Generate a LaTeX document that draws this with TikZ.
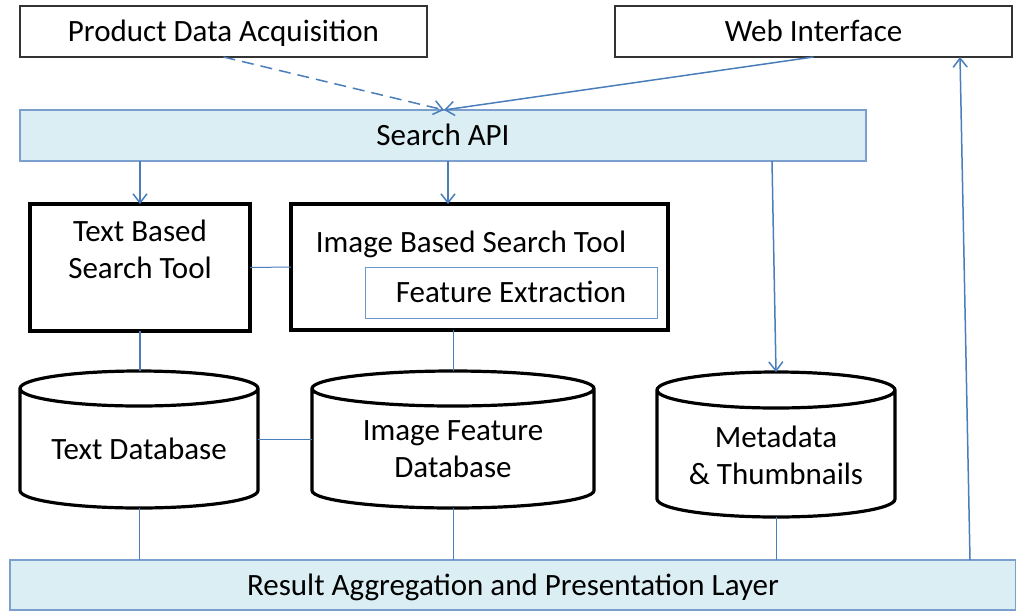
\documentclass[tikz,border=0pt]{standalone}
\usepackage{fontspec}
\setmainfont{Carlito}
\usetikzlibrary{arrows.meta}
\definecolor{lnblue}{HTML}{4A7EBB}
\definecolor{apifill}{HTML}{DBEEF4}
\definecolor{apiline}{HTML}{7BA0CF}
\begin{document}
\begin{tikzpicture}[x=1pt,y=-1pt,
  every node/.style={font=\fontsize{31}{37}\selectfont, inner sep=0pt, outer sep=0pt},
  oneline/.style={text height=27pt, text depth=7pt},
  plainbox/.style={oneline, draw=black!80, line width=1.5pt},
  toolbox/.style={draw=black, line width=3.2pt},
  layerbox/.style={oneline, draw=apiline, fill=apifill, line width=1.3pt},
  innerbox/.style={oneline, draw=lnblue!80, line width=1pt},
  cyl/.style={draw=black, line width=3.2pt},
  conn/.style={draw=lnblue, line width=1.5pt},
  arr/.style={conn, -{Straight Barb[length=9pt,width=14pt,line width=1.5pt]}},
  txt/.style={align=center}
]
\useasboundingbox (0,0) rectangle (1016,611);

% top boxes
\node[plainbox, minimum width=407pt, minimum height=51pt] (pda) at (223.5,31.5) {Product Data Acquisition};
\node[plainbox, minimum width=397pt, minimum height=51pt] (web) at (813.5,31.5) {Web Interface};

% search api
\node[layerbox, minimum width=846pt, minimum height=51pt] (api) at (443,135.5) {Search API};

% tools
\node[toolbox, minimum width=220pt, minimum height=127pt] (ttool) at (140,267.5) {};
\node[txt] (ttooltxt) at (140,249.5) {Text Based\\Search Tool};
\node[toolbox, minimum width=377pt, minimum height=126pt] (itool) at (479.5,267) {};
\node[oneline] (itooltxt) at (471,242) {Image Based Search Tool};
\node[innerbox, minimum width=292pt, minimum height=51pt] (fext) at (511,292.5) {Feature Extraction};

% databases
\node[minimum width=238pt, minimum height=137pt] (tdb) at (139,439.5) {};
\node[minimum width=282pt, minimum height=137pt] (idb) at (453,439.5) {};
\node[minimum width=238pt, minimum height=145pt] (mdb) at (776,444.5) {};

\draw[cyl] ([yshift=-17.5pt]tdb.north west) -- ([yshift=17.5pt]tdb.south west)
  arc[start angle=180,end angle=360,x radius=119pt,y radius=17.5pt]
  -- ([yshift=-17.5pt]tdb.north east) arc[start angle=0,end angle=360,x radius=119pt,y radius=17.5pt];
\draw[cyl] ([yshift=-17.5pt]idb.north west) -- ([yshift=17.5pt]idb.south west)
  arc[start angle=180,end angle=360,x radius=141pt,y radius=17.5pt]
  -- ([yshift=-17.5pt]idb.north east) arc[start angle=0,end angle=360,x radius=141pt,y radius=17.5pt];
\draw[cyl] ([yshift=-18pt]mdb.north west) -- ([yshift=18pt]mdb.south west)
  arc[start angle=180,end angle=360,x radius=119pt,y radius=18pt]
  -- ([yshift=-18pt]mdb.north east) arc[start angle=0,end angle=360,x radius=119pt,y radius=18pt];

\node[oneline] (tdbtxt) at ([yshift=-10pt]tdb.center) {Text Database};
\node[txt] (idbtxt) at ([yshift=-10pt]idb.center) {Image Feature\\Database};
\node[txt] (mdbtxt) at ([yshift=-11pt]mdb.center) {Metadata\\\&~Thumbnails};

% result layer
\node[layerbox, minimum width=1006pt, minimum height=50pt] (res) at (513,585) {Result Aggregation and Presentation Layer};

% connectors
\draw[arr, dashed, dash pattern=on 12pt off 7pt] (pda.south) -- ([xshift=1pt]api.north);
\draw[arr] (web.south) -- ([xshift=1pt]api.north);
\draw[arr] (api.south -| ttool.north) -- (ttool.north);
\draw[arr] ([xshift=5pt]api.south) -- ([xshift=-31.5pt]itool.north);
\draw[arr] ([xshift=329pt]api.south) -- (mdb.north);
\draw[conn, line width=1pt] (ttool.east) -- (itool.west);
\draw[conn, line width=2pt] (ttool.south) -- (tdb.north -| ttool.south);
\draw[conn, line width=1pt] (itool.south -| idb.north) -- (idb.north);
\draw[conn] (tdb.east) -- (idb.west);
\draw[conn, line width=1pt] (tdb.south) -- (res.north -| tdb.south);
\draw[conn, line width=1pt] (idb.south) -- (res.north -| idb.south);
\draw[conn, line width=1pt] (mdb.south) -- (res.north -| mdb.south);
\draw[arr] ([xshift=457pt]res.north) -- ([xshift=146.5pt]web.south);
\end{tikzpicture}
\end{document}
